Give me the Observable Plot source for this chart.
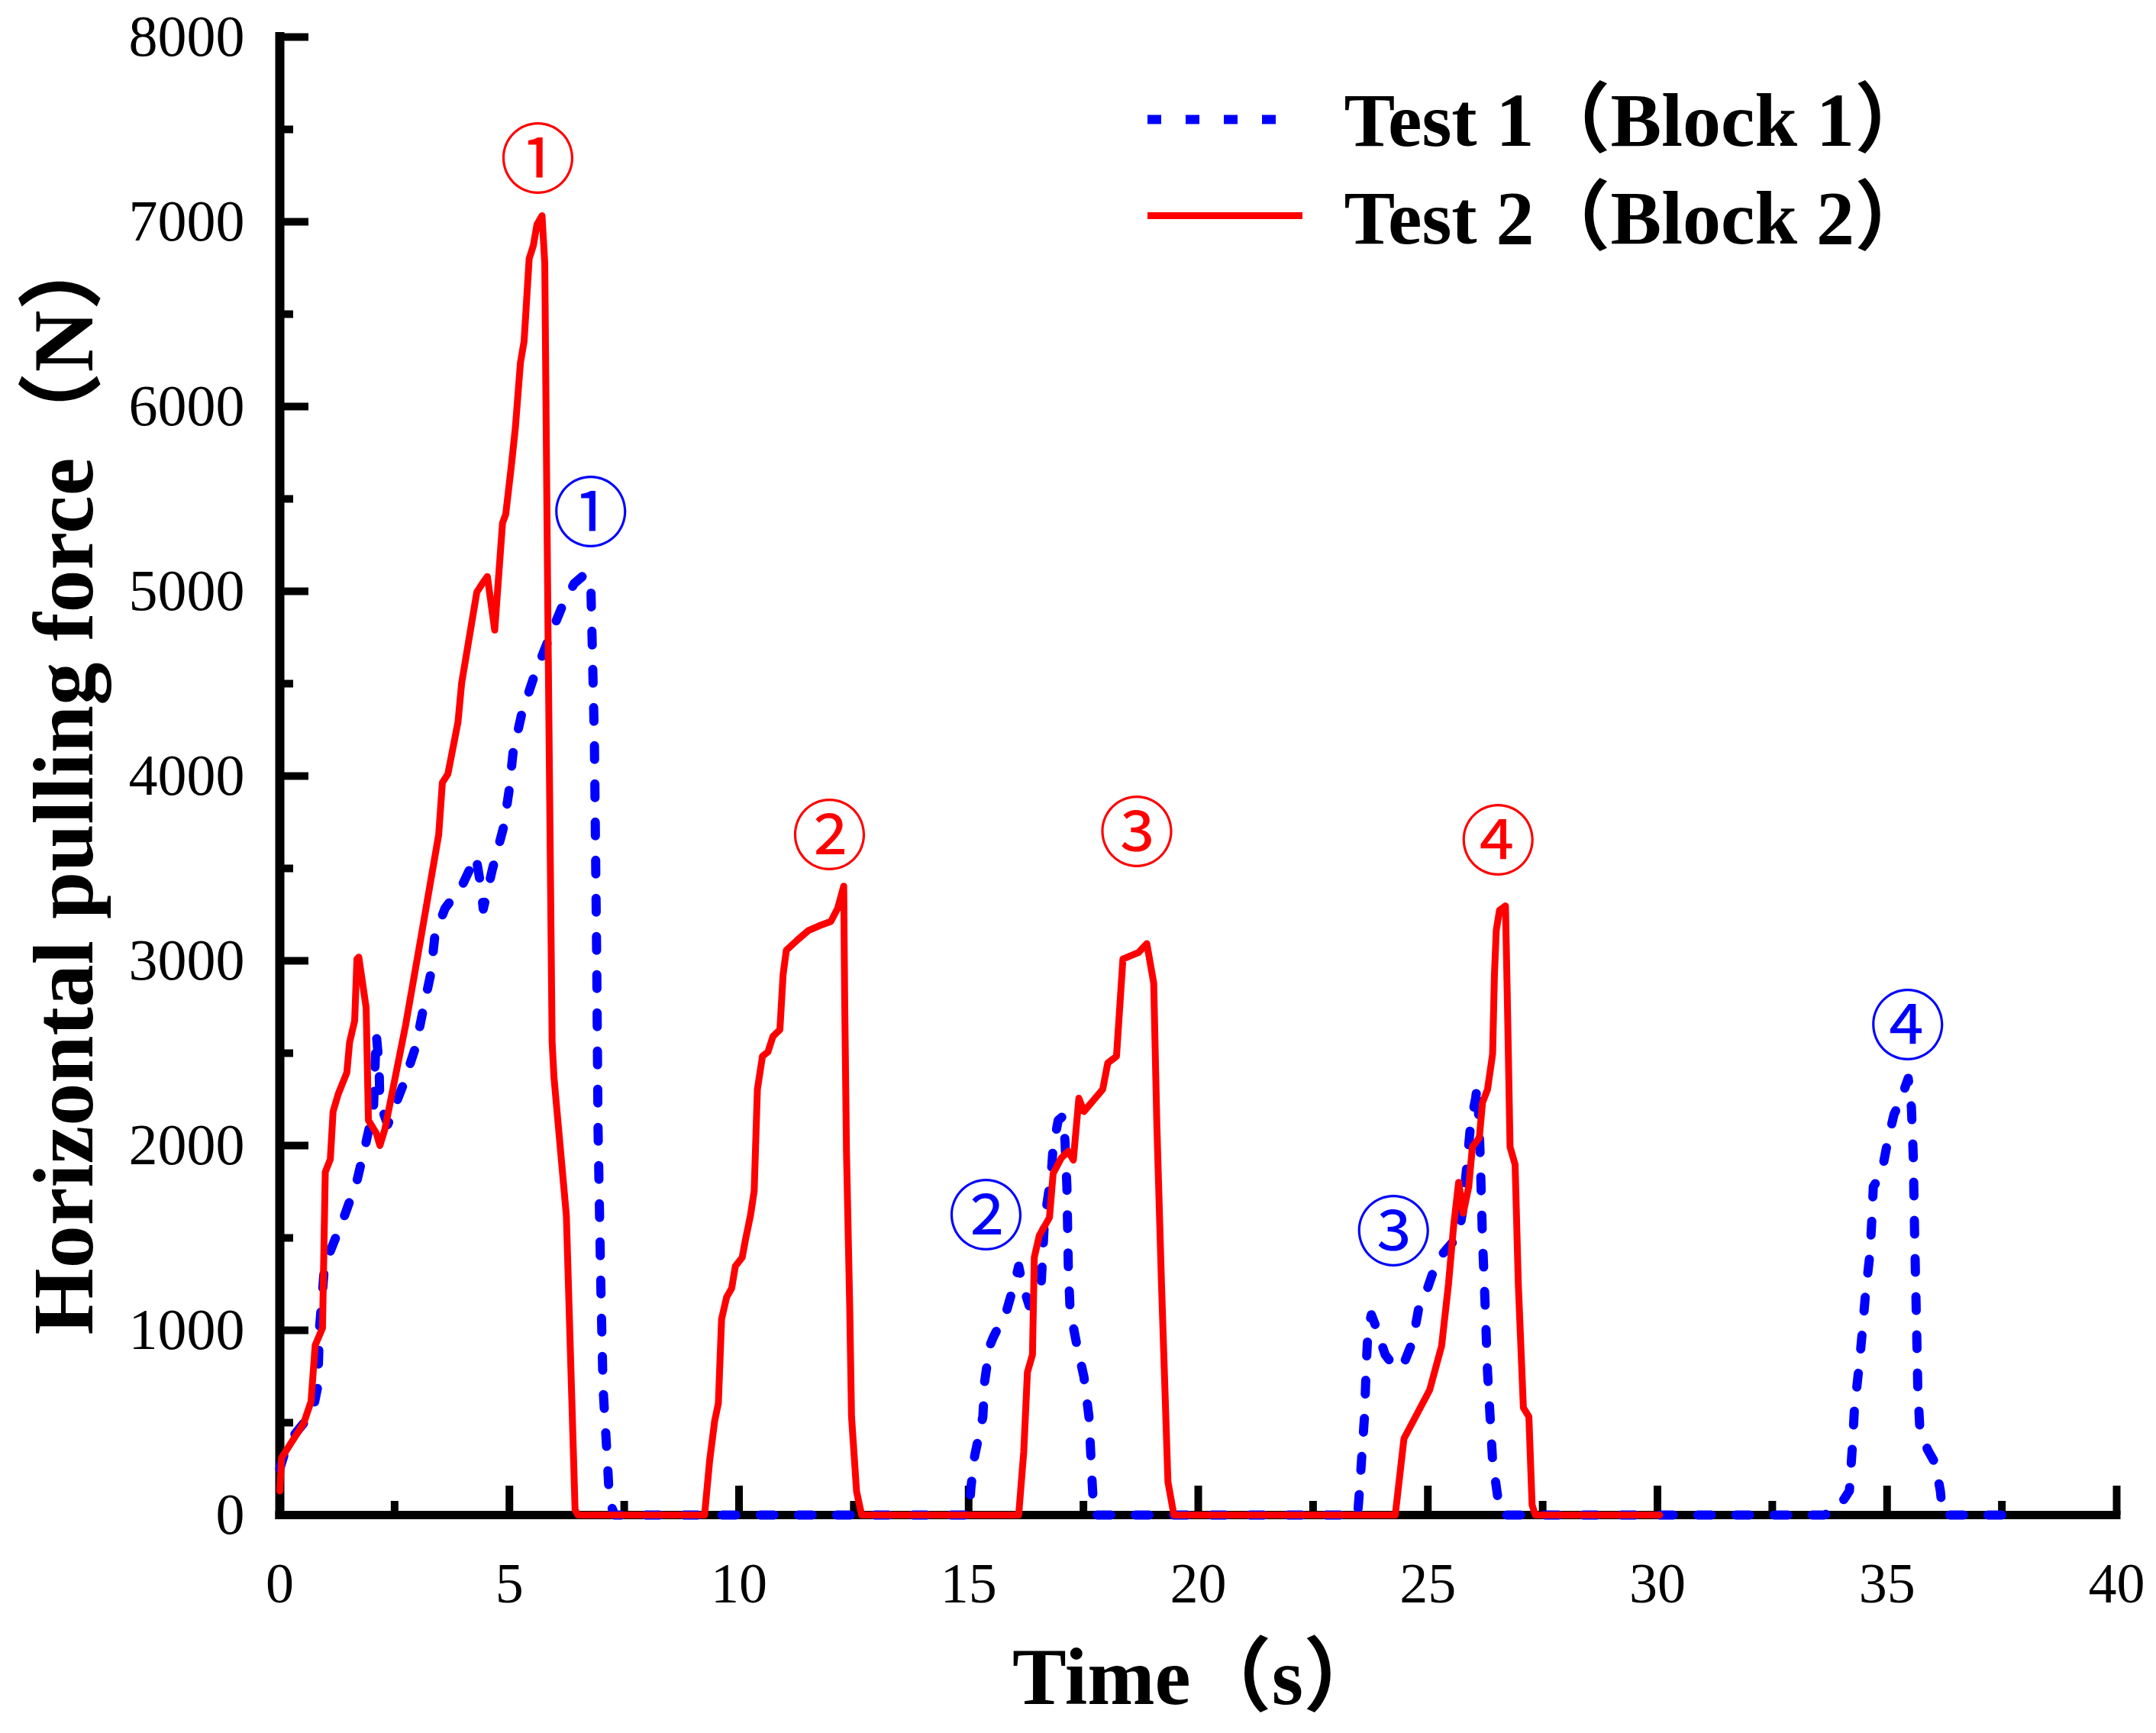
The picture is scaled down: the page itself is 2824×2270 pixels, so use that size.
<!DOCTYPE html>
<html>
<head>
<meta charset="utf-8">
<script src="https://cdn.jsdelivr.net/npm/d3@7"></script>
<script src="https://cdn.jsdelivr.net/npm/@observablehq/plot@0.6"></script>
<style>
  html, body { margin: 0; padding: 0; background: #ffffff; }
  #chart { width: 2824px; height: 2270px; }
</style>
</head>
<body>
<div id="chart"></div>
<script>
// ---- Data ----
// Test 1 (Block 1): time (s) and horizontal pulling force (N)
const test1Time = [0, 0.13, 0.29, 0.52, 0.74, 0.83, 0.86, 0.92, 0.98, 1.07, 1.41, 1.68, 1.88, 2.04, 2.1, 2.16, 2.18, 2.35, 2.68, 2.96, 3.13, 3.29, 3.38, 3.6, 3.96, 4.27, 4.38, 4.43, 4.63, 4.88, 4.99, 5.08, 5.27, 5.52, 5.85, 6.16, 6.41, 6.63, 6.77, 6.79, 6.85, 6.9, 6.93, 6.99, 7.04, 7.13, 7.18, 7.29,
  15.01, 15.05, 15.13, 15.31, 15.35, 15.46, 15.54, 15.83, 16.02, 16.09, 16.17, 16.32, 16.47, 16.58, 16.65, 16.8, 16.84, 16.95, 17.06, 17.1, 17.14, 17.17, 17.21, 17.36, 17.51, 17.62, 17.69, 17.73,
  23.47, 23.51, 23.62, 23.66, 23.7, 23.77, 23.88, 24.07, 24.22, 24.44, 24.67, 24.81, 24.96, 25.19, 25.34, 25.67, 25.75, 25.86, 25.93, 26.04, 26.08, 26.14, 26.19, 26.23, 26.3, 26.41, 26.56, 26.64,
  33.63, 33.91, 34.18, 34.25, 34.29, 34.39, 34.46, 34.53, 34.63, 34.67, 34.7, 34.88, 35.01, 35.15, 35.29, 35.46, 35.53, 35.57, 35.6, 35.64, 35.67, 35.71, 35.88, 36.05, 36.16, 36.19, 36.22, 37.57];
const test1Force = [250, 356, 426, 497, 590, 700, 1000, 1180, 1368, 1410, 1621, 1809, 2020, 2200, 2605, 2441, 2230, 2113, 2324, 2535, 2746, 2933, 3144, 3285, 3402, 3566, 3402, 3280, 3496, 3730, 3917, 4128, 4339, 4527, 4738, 4925, 5042, 5089, 5065, 4855, 4199, 3027, 2090, 1246, 684, 309, 75, 0,
  0, 150, 318, 533, 725, 916, 964, 1108, 1275, 1347, 1251, 1132, 1227, 1251, 1586, 1849, 1993, 2136, 2160, 2017, 1778, 1347, 1108, 916, 749, 533, 175, 0,
  0, 127, 533, 820, 1012, 1084, 1012, 868, 820, 797, 940, 1132, 1203, 1371, 1419, 1514, 1634, 1921, 2112, 2256, 2328, 1945, 1490, 1251, 773, 294, 31, 0,
  0, 28, 131, 393, 579, 804, 991, 1196, 1421, 1607, 1776, 1850, 2019, 2168, 2243, 2364, 2206, 1944, 1514, 1047, 673, 486, 355, 280, 131, 56, 0, 0];

// Test 2 (Block 2)
const test2Time = [0, 0.04, 0.52, 0.68, 0.77, 0.93, 0.99, 1.1, 1.16, 1.27, 1.46, 1.52, 1.63, 1.68, 1.72, 1.88, 1.93, 2.1, 2.18, 2.29, 2.74, 3.07, 3.46, 3.54, 3.66, 3.88, 3.96, 4.29, 4.41, 4.52, 4.68, 4.85, 4.92, 5.04, 5.13, 5.24, 5.32, 5.43, 5.52, 5.6, 5.71, 5.77, 5.79, 5.84, 5.93, 5.97, 6.24, 6.43, 6.49,
  9.25, 9.36, 9.47, 9.55, 9.62, 9.73, 9.84, 9.92, 10.07, 10.14, 10.25, 10.33, 10.4, 10.51, 10.63, 10.74, 10.89, 10.96, 11.03, 11.29, 11.52, 11.74, 12.0, 12.15, 12.28, 12.3, 12.34, 12.41, 12.45, 12.56, 12.67,
  16.09, 16.2, 16.28, 16.39, 16.43, 16.54, 16.76, 16.84, 17.02, 17.17, 17.28, 17.4, 17.51, 17.92, 18.03, 18.22, 18.36, 18.7, 18.88, 19.03, 19.1, 19.2, 19.34, 19.47,
  24.29, 24.48, 25.04, 25.3, 25.45, 25.56, 25.67, 25.77, 25.89, 25.97, 26.12, 26.19, 26.3, 26.41, 26.45, 26.49, 26.56, 26.69, 26.73, 26.79, 26.9, 26.97, 27.08, 27.2, 27.27, 27.34, 30.05];
const test2Force = [130, 310, 497, 614, 918, 1012, 1856, 1926, 2184, 2277, 2395, 2559, 2676, 3010, 3020, 2746, 2137, 2067, 2000, 2090, 2652, 3121, 3683, 3964, 4011, 4292, 4503, 4995, 5042, 5080, 4790, 5370, 5417, 5675, 5886, 6237, 6354, 6800, 6870, 6986, 7033, 6776, 6200, 4800, 2560, 2370, 1621, 28, 0,
  0, 294, 510, 605, 1060, 1180, 1227, 1347, 1395, 1490, 1622, 1754, 2304, 2483, 2507, 2591, 2627, 2926, 3057, 3117, 3165, 3189, 3213, 3285, 3404, 2806, 1969, 1132, 533, 127, 0,
  0, 342, 773, 868, 1395, 1514, 1610, 1849, 1933, 1969, 1921, 2256, 2184, 2304, 2447, 2483, 3010, 3045, 3093, 2880, 2100, 1251, 180, 0,
  0, 414, 677, 916, 1251, 1562, 1801, 1634, 1777, 1993, 2041, 2232, 2304, 2495, 2926, 3165, 3273, 3297, 2806, 1993, 1897, 1251, 581, 533, 55, 0, 0];

// Circled peak labels (time, force)
const test1Labels = ["①", "②", "③", "④"];
const test1LabelTime = [6.77, 15.38, 24.25, 35.45];
const test1LabelForce = [5430, 1628, 1540, 2655];
const test2Labels = ["①", "②", "③", "④"];
const test2LabelTime = [5.62, 11.97, 18.66, 26.53];
const test2LabelForce = [7343, 3682, 3700, 3655];

// Axes
const xMajorTicks = [0, 5, 10, 15, 20, 25, 30, 35, 40];
const xMinorTicks = [2.5, 7.5, 12.5, 17.5, 22.5, 27.5, 32.5, 37.5];
const yMajorTicks = [0, 1000, 2000, 3000, 4000, 5000, 6000, 7000, 8000];
const yMinorTicks = [500, 1500, 2500, 3500, 4500, 5500, 6500, 7500];
const xDomain = [0, 40];
const yDomain = [0, 8000];

const xTitle = "Time（s）";
const yTitle = "Horizontal pulling force（N）";
const seriesNames = ["Test 1（Block 1）", "Test 2（Block 2）"];

// ---- Build tables ----
const test1 = test1Time.map((t, i) => ({t, f: test1Force[i]}));
const test2 = test2Time.map((t, i) => ({t, f: test2Force[i]}));
const labels1 = test1Labels.map((s, i) => ({s, t: test1LabelTime[i], f: test1LabelForce[i]}));
const labels2 = test2Labels.map((s, i) => ({s, t: test2LabelTime[i], f: test2LabelForce[i]}));

const W = 2824, H = 2270;
const mL = 366, mR = 52, mT = 48, mB = 286;
const frameW = W - mL - mR, frameH = H - mT - mB;
const BLUE = "#0000ff", RED = "#ff0000";
const SERIF = "'Liberation Serif', 'Noto Sans CJK SC', serif";
const CIRC = "'Noto Sans CJK SC', 'DejaVu Sans', sans-serif";
const plain = d => String(d);

const chart = Plot.plot({
  width: W, height: H,
  marginLeft: mL, marginRight: mR, marginTop: mT, marginBottom: mB,
  x: {domain: xDomain},
  y: {domain: yDomain},
  style: {background: "#ffffff", fontFamily: SERIF, color: "#000"},
  marks: [
    // tick labels
    Plot.axisX(xMajorTicks, {tickSize: 0, tickPadding: 62, fontSize: 74, label: null, fill: "#000", tickFormat: plain}),
    Plot.axisY(yMajorTicks, {tickSize: 0, tickPadding: 46, fontSize: 76, label: null, fill: "#000", tickFormat: plain}),
    // inward ticks
    Plot.tickX(xMajorTicks, {x: d => d, insetTop: frameH - 38, stroke: "#000", strokeWidth: 10}),
    Plot.tickX(xMinorTicks, {x: d => d, insetTop: frameH - 18, stroke: "#000", strokeWidth: 10}),
    Plot.tickY(yMajorTicks, {y: d => d, insetRight: frameW - 38, stroke: "#000", strokeWidth: 10}),
    Plot.tickY(yMinorTicks, {y: d => d, insetRight: frameW - 18, stroke: "#000", strokeWidth: 10}),
    // axis lines
    Plot.ruleX([xDomain[0]], {stroke: "#000", strokeWidth: 12, strokeLinecap: "square"}),
    Plot.ruleY([yDomain[0]], {stroke: "#000", strokeWidth: 11, strokeLinecap: "square"}),
    // series
    Plot.line(test1, {x: "t", y: "f", stroke: BLUE, strokeWidth: 12, strokeDasharray: "18,32", strokeLinejoin: "round"}),
    Plot.line(test2, {x: "t", y: "f", stroke: RED, strokeWidth: 9, strokeLinejoin: "round"}),
    // circled labels
    Plot.text(labels1, {x: "t", y: "f", text: "s", fill: BLUE, fontSize: 100, fontFamily: CIRC, dy: 6}),
    Plot.text(labels2, {x: "t", y: "f", text: "s", fill: RED, fontSize: 100, fontFamily: CIRC, dy: 6}),
    // legend
    Plot.tickY([yDomain[1]], {y: d => d, dy: 108, insetLeft: 1137, insetRight: 1098, stroke: BLUE, strokeWidth: 12, strokeDasharray: "18,32"}),
    Plot.tickY([yDomain[1]], {y: d => d, dy: 234, insetLeft: 1137, insetRight: 1066, stroke: RED, strokeWidth: 9}),
    Plot.text([seriesNames[0]], {frameAnchor: "top-left", dx: 1394, dy: 110, textAnchor: "start", lineAnchor: "middle", fontSize: 100, fontWeight: "bold", fill: "#000"}),
    Plot.text([seriesNames[1]], {frameAnchor: "top-left", dx: 1394, dy: 238, textAnchor: "start", lineAnchor: "middle", fontSize: 100, fontWeight: "bold", fill: "#000"}),
    // axis titles
    Plot.text([xTitle], {frameAnchor: "bottom", dy: 214, textAnchor: "middle", lineAnchor: "middle", fontSize: 106, fontWeight: "bold", fill: "#000"}),
    Plot.text([yTitle], {frameAnchor: "left", dx: -281, dy: 5, rotate: -90, textAnchor: "middle", lineAnchor: "middle", fontSize: 112, fontWeight: "bold", fill: "#000"})
  ]
});
document.getElementById("chart").appendChild(chart);
</script>
</body>
</html>
